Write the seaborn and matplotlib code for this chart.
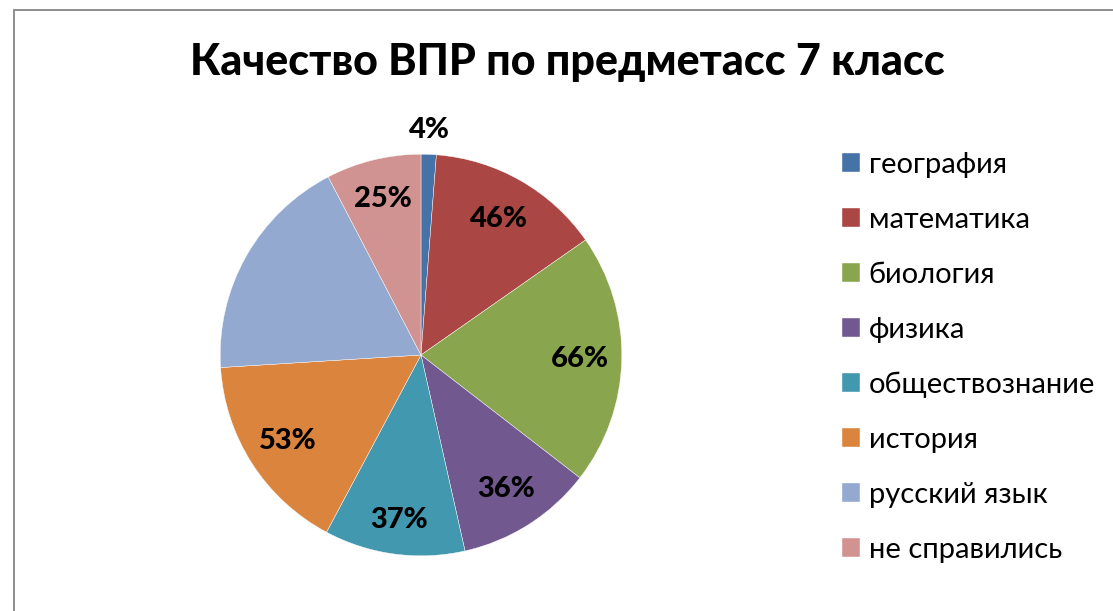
import matplotlib
matplotlib.use("Agg")
import matplotlib.pyplot as plt
import seaborn as sns
import numpy as np
from matplotlib.patches import Rectangle

# data
subjects = ["география", "математика", "биология", "физика",
            "обществознание", "история", "русский язык", "не справились"]
values = [4, 46, 66, 36, 37, 53, 60, 25]
value_labels = ["4%", "46%", "66%", "36%", "37%", "53%", "", "25%"]
colors = ["#4572A7", "#AA4643", "#89A54E", "#71588F",
          "#4198AF", "#DB843D", "#93A9CF", "#D19392"]
title = "Качество ВПР по предметасс 7 класс"

# where each value label sits, as a fraction of the radius
label_radius = [1.12, 0.78, 0.79, 0.79, 0.83, 0.79, 0.79, 0.80]

sns.set_style("white")
plt.rcParams["font.family"] = ["Lato", "DejaVu Sans"]
plt.rcParams["text.color"] = "black"

W, H = 1113, 611
fig = plt.figure(figsize=(W / 100, H / 100), dpi=100)

# chart border (right and bottom edges fall outside the picture)
fig.patches.append(Rectangle((13.5 / W, -0.1), 1.2, 1 - 9.5 / H + 0.1,
                             transform=fig.transFigure, fill=False,
                             edgecolor="#868686", linewidth=1.3))

ax = fig.add_axes([170 / W, 5 / H, 502 / W, 502 / H])
wedges, _ = ax.pie(values, colors=colors, startangle=90, counterclock=False,
                   wedgeprops=dict(edgecolor="white", linewidth=0.3))
ax.set_xlim(-1.25, 1.25)
ax.set_ylim(-1.25, 1.25)
ax.set_aspect("equal")
ax.axis("off")

for w, lab, r in zip(wedges, value_labels, label_radius):
    if not lab:
        continue
    mid = np.deg2rad((w.theta1 + w.theta2) / 2)
    ax.text(r * np.cos(mid), r * np.sin(mid), lab, ha="center", va="center",
            fontsize=21, fontweight="black", color="black", clip_on=False)

fig.text(567 / W, 1 - 62 / H, title, ha="center", va="center",
         fontsize=31, fontweight="black", color="black")

fig.legend(wedges, subjects, loc="upper left",
           bbox_to_anchor=(842 / W, 1 - 152 / H), frameon=False,
           fontsize=21, handlelength=0.62, handleheight=0.62,
           handletextpad=0.3, labelspacing=0.99, borderpad=0,
           borderaxespad=0, labelcolor="black")

fig.savefig("out.png", dpi=100)
